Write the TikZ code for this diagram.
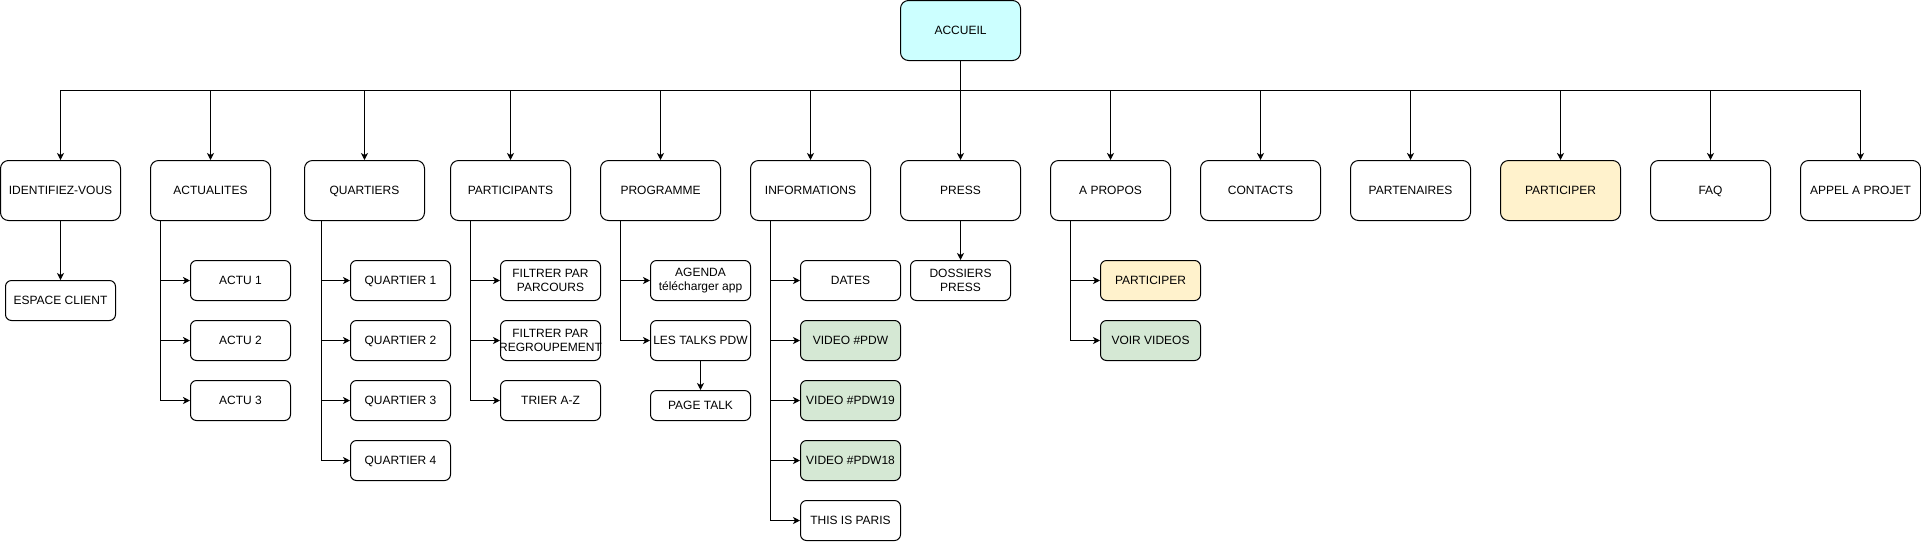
\documentclass[tikz,border=0pt]{standalone}
\usepackage{fontspec}
\setmainfont{Liberation Sans}
\usetikzlibrary{arrows.meta}
\definecolor{accCyan}{HTML}{CCFFFF}
\definecolor{partYellow}{HTML}{FFF2CC}
\definecolor{vidGreen}{HTML}{D5E8D4}
\begin{document}
\begin{tikzpicture}[x=1pt,y=-1pt,
  box/.style={draw=black, line width=1pt, fill=white, align=center, inner sep=0pt,
    anchor=north west, font=\fontsize{12}{13.5}\selectfont},
  oneline/.style={text height=8.6pt, text depth=0pt},
  topbox/.style={box, oneline, minimum width=120pt, minimum height=60pt, rounded corners=8pt},
  subbox/.style={box, oneline, minimum width=100pt, minimum height=40pt, rounded corners=6pt},
  twobox/.style={box, minimum width=100pt, minimum height=40pt, rounded corners=6pt},
  conn/.style={line width=1pt, -{Stealth[length=7pt,width=7pt,inset=2pt]}}
]
\useasboundingbox (0,0) rectangle (1921,542);
% top level
\node[topbox, fill=accCyan] (acc) at (900,0) {ACCUEIL};
\node[topbox] (idv) at (0,160) {IDENTIFIEZ-VOUS};
\node[topbox] (act) at (150,160) {ACTUALITES};
\node[topbox] (qua) at (304,160) {QUARTIERS};
\node[topbox] (par) at (450,160) {PARTICIPANTS};
\node[topbox] (prg) at (600,160) {PROGRAMME};
\node[topbox] (inf) at (750,160) {INFORMATIONS};
\node[topbox] (prs) at (900,160) {PRESS};
\node[topbox] (apr) at (1050,160) {A PROPOS};
\node[topbox] (con) at (1200,160) {CONTACTS};
\node[topbox] (pte) at (1350,160) {PARTENAIRES};
\node[topbox, fill=partYellow] (ptc) at (1500,160) {PARTICIPER};
\node[topbox] (faq) at (1650,160) {FAQ};
\node[topbox] (app) at (1800,160) {APPEL A PROJET};
% children
\node[subbox, minimum width=110pt] (esp) at (5,280) {ESPACE CLIENT};
\node[subbox] (a1) at (190,260) {ACTU 1};
\node[subbox] (a2) at (190,320) {ACTU 2};
\node[subbox] (a3) at (190,380) {ACTU 3};
\node[subbox] (q1) at (350,260) {QUARTIER 1};
\node[subbox] (q2) at (350,320) {QUARTIER 2};
\node[subbox] (q3) at (350,380) {QUARTIER 3};
\node[subbox] (q4) at (350,440) {QUARTIER 4};
\node[twobox] (f1) at (500,260) {FILTRER PAR\\PARCOURS};
\node[twobox] (f2) at (500,320) {FILTRER PAR\\\makebox[90pt][c]{REGROUPEMENT}};
\node[subbox] (f3) at (500,380) {TRIER A-Z};
\node[twobox] (ag) at (650,260) {AGENDA\\télécharger app};
\node[subbox] (lt) at (650,320) {LES TALKS PDW};
\node[subbox, minimum height=30pt] (pt) at (650,390) {PAGE TALK};
\node[subbox] (d1) at (800,260) {DATES};
\node[subbox, fill=vidGreen] (d2) at (800,320) {VIDEO \#PDW};
\node[subbox, fill=vidGreen] (d3) at (800,380) {VIDEO \#PDW19};
\node[subbox, fill=vidGreen] (d4) at (800,440) {VIDEO \#PDW18};
\node[subbox] (d5) at (800,500) {THIS IS PARIS};
\node[twobox] (dp) at (910,260) {DOSSIERS\\PRESS};
\node[subbox, fill=partYellow] (ap1) at (1100,260) {PARTICIPER};
\node[subbox, fill=vidGreen] (ap2) at (1100,320) {VOIR VIDEOS};
% connectors from ACCUEIL
\coordinate (bus) at (0,90);
\foreach \n in {idv,act,qua,par,prg,inf,prs,apr,con,pte,ptc,faq,app}
  \draw[conn] (acc.south) -- (acc.south |- bus) -| (\n.north);
% straight children
\draw[conn] (idv.south) -- (esp.north);
\draw[conn] (prs.south) -- (dp.north);
\draw[conn] (lt.south) -- (pt.north);
% trunk connectors
\foreach \c in {a1,a2,a3}
  \draw[conn] ([xshift=10pt]act.south west) |- (\c.west);
\foreach \c in {q1,q2,q3,q4}
  \draw[conn] ([xshift=17pt]qua.south west) |- (\c.west);
\foreach \c in {f1,f2,f3}
  \draw[conn] ([xshift=20pt]par.south west) |- (\c.west);
\foreach \c in {ag,lt}
  \draw[conn] ([xshift=20pt]prg.south west) |- (\c.west);
\foreach \c in {d1,d2,d3,d4,d5}
  \draw[conn] ([xshift=20pt]inf.south west) |- (\c.west);
\foreach \c in {ap1,ap2}
  \draw[conn] ([xshift=20pt]apr.south west) |- (\c.west);
\end{tikzpicture}
\end{document}
